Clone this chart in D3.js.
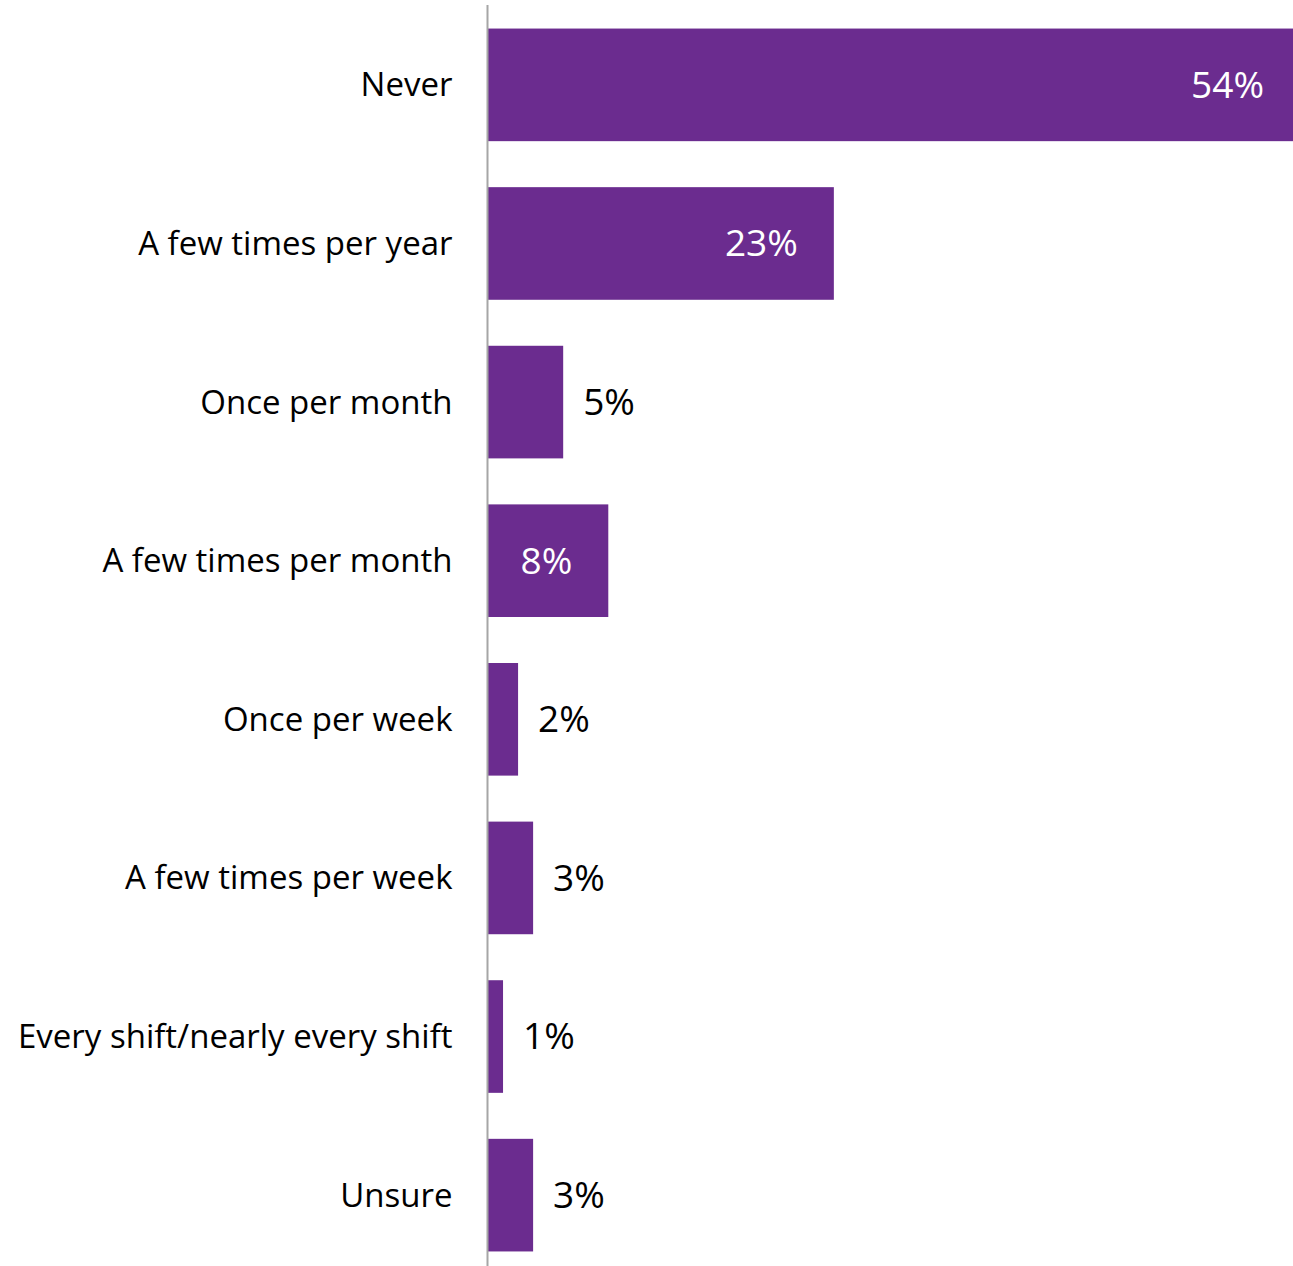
<!DOCTYPE html>
<html>
<head>
<meta charset="utf-8">
<script src="https://cdn.jsdelivr.net/npm/d3@7"></script>
<style>
  html, body { margin: 0; padding: 0; background: #ffffff; }
  svg { display: block; }
</style>
</head>
<body>
<div id="chart"></div>
<script>
// Response categories, top to bottom
const categories = [
  "Never",
  "A few times per year",
  "Once per month",
  "A few times per month",
  "Once per week",
  "A few times per week",
  "Every shift/nearly every shift",
  "Unsure"
];

// Share of respondents (%)
const values = [54, 23, 5, 8, 2, 3, 1, 3];

// Whether each value label sits inside its bar
const labelInside = [true, true, false, true, false, false, false, false];

const width = 1293, height = 1266;
const axisX = 488;
const barColor = "#6B2C8F";

const svg = d3.select("#chart").append("svg")
  .attr("width", width)
  .attr("height", height);

const x = d3.scaleLinear()
  .domain([0, 54])
  .range([axisX, 1300]);

const y = d3.scaleBand()
  .domain(categories)
  .range([0, 1280])
  .paddingInner(0.29)
  .paddingOuter(0.18);

const rows = categories.map((c, i) => ({ cat: c, val: values[i], inside: labelInside[i] }));

// Bars
svg.append("g")
  .selectAll("rect")
  .data(rows)
  .join("rect")
  .attr("x", x(0))
  .attr("y", d => y(d.cat))
  .attr("width", d => x(d.val) - x(0))
  .attr("height", y.bandwidth())
  .attr("fill", barColor);

// Category axis (line only, labels drawn alongside)
const yAxis = d3.axisLeft(y).tickSize(0).tickPadding(35);
const ga = svg.append("g")
  .attr("transform", `translate(${axisX - 0.5},0)`)
  .call(yAxis);
ga.select(".domain")
  .attr("d", `M0,5V${height}`)
  .attr("stroke", "#a6a6a6")
  .attr("stroke-width", 2);
ga.selectAll(".tick text")
  .attr("font-family", "'Open Sans', sans-serif")
  .attr("font-size", 33)
  .attr("fill", "#000000")
  .attr("dy", "0.35em");

// Value labels
svg.append("g")
  .selectAll("text")
  .data(rows)
  .join("text")
  .attr("x", d => d.inside ? x(d.val) - 36 : x(d.val) + 20)
  .attr("y", d => y(d.cat) + y.bandwidth() / 2)
  .attr("dy", "0.35em")
  .attr("text-anchor", d => d.inside ? "end" : "start")
  .attr("font-family", "'Open Sans', sans-serif")
  .attr("font-size", 37)
  .attr("fill", d => d.inside ? "#ffffff" : "#000000")
  .text(d => d.val + "%");
</script>
</body>
</html>
